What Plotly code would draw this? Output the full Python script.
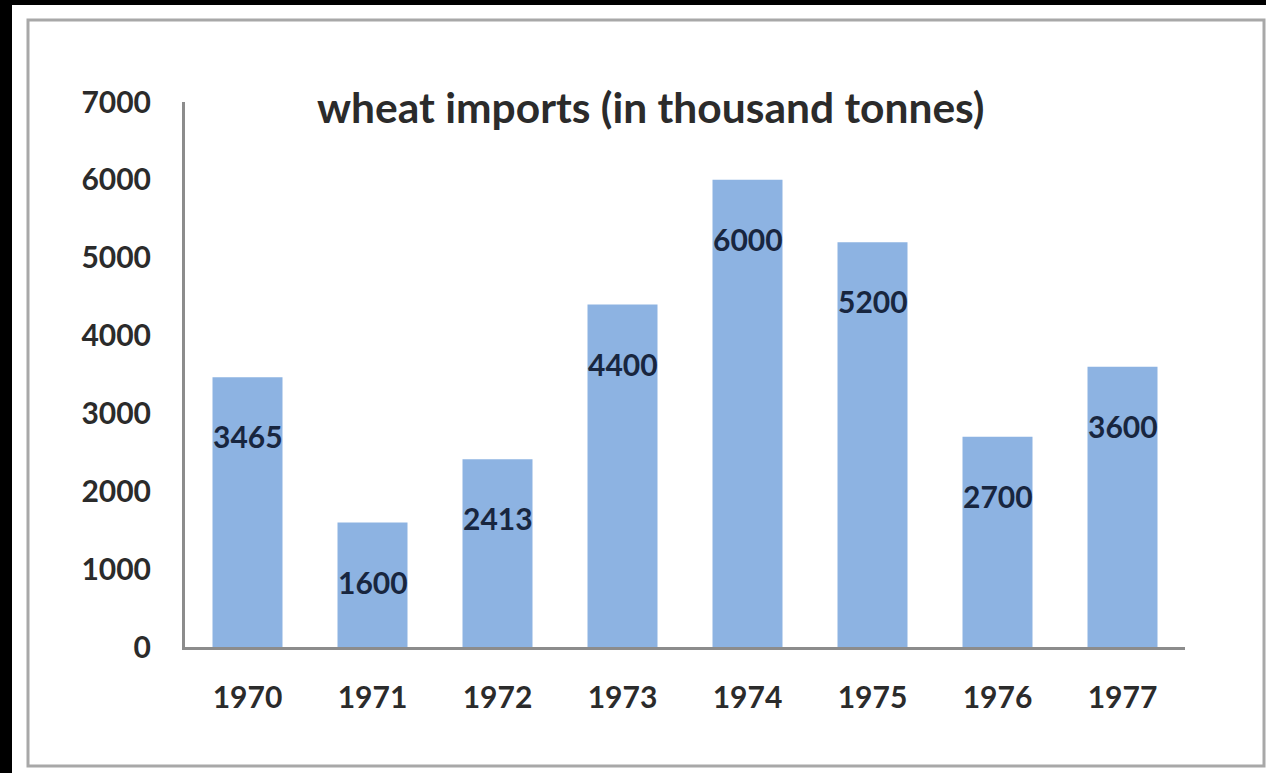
import plotly.graph_objects as go

years = ["1970", "1971", "1972", "1973", "1974", "1975", "1976", "1977"]
imports = [3465, 1600, 2413, 4400, 6000, 5200, 2700, 3600]
y_ticks = [0, 1000, 2000, 3000, 4000, 5000, 6000, 7000]
label_drop = 760  # labels sit a little below the bar tops

FONT = "Lato"
BAR = "#8db3e2"
TXT = "#2b2b2b"
LBL = "#18263f"

fig = go.Figure()
fig.add_trace(go.Bar(x=years, y=imports, marker=dict(color=BAR, line=dict(width=0)),
                     hoverinfo="x+y"))

# on a category axis, annotation x is the category's serial index
for i, v in enumerate(imports):
    fig.add_annotation(x=i, y=v - label_drop, text=f"<b>{v}</b>", showarrow=False,
                       font=dict(family=FONT, size=30, color=LBL), xanchor="center", yanchor="middle")

fig.add_annotation(xref="paper", yref="paper", x=0.465, y=0.991,
                   text="<b>wheat imports (in thousand tonnes)</b>", showarrow=False,
                   font=dict(family=FONT, size=42.5, color=TXT), xanchor="center", yanchor="middle")

# frame: white card with a grey border on a black backdrop
fig.add_shape(type="rect", xref="paper", yref="paper", x0=-0.173, x1=1.081, y0=-0.2312, y1=1.178,
              fillcolor="white", line=dict(width=0), layer="below")
fig.add_shape(type="rect", xref="paper", yref="paper", x0=-0.157, x1=1.079, y0=-0.2183, y1=1.1505,
              fillcolor="rgba(0,0,0,0)", line=dict(width=3, color="#a8a8a8"), layer="below")

fig.update_layout(
    width=1266, height=773,
    margin=dict(l=185, r=81, t=102, b=126),
    paper_bgcolor="black", plot_bgcolor="rgba(0,0,0,0)",
    bargap=0.44, showlegend=False,
    font=dict(family=FONT, color=TXT),
)
fig.update_xaxes(type="category", showline=True, linecolor="#8c8c8c", linewidth=3, showgrid=False, ticks="",
                 tickfont=dict(family=FONT, size=30, color=TXT, weight="bold"), ticklabelstandoff=22)
fig.update_yaxes(range=[0, 7000], tickvals=y_ticks, showline=True, linecolor="#8c8c8c", linewidth=3,
                 showgrid=False, zeroline=False, ticks="",
                 tickfont=dict(family=FONT, size=30, color=TXT, weight="bold"), ticklabelstandoff=25)

fig.write_html("out.html")
